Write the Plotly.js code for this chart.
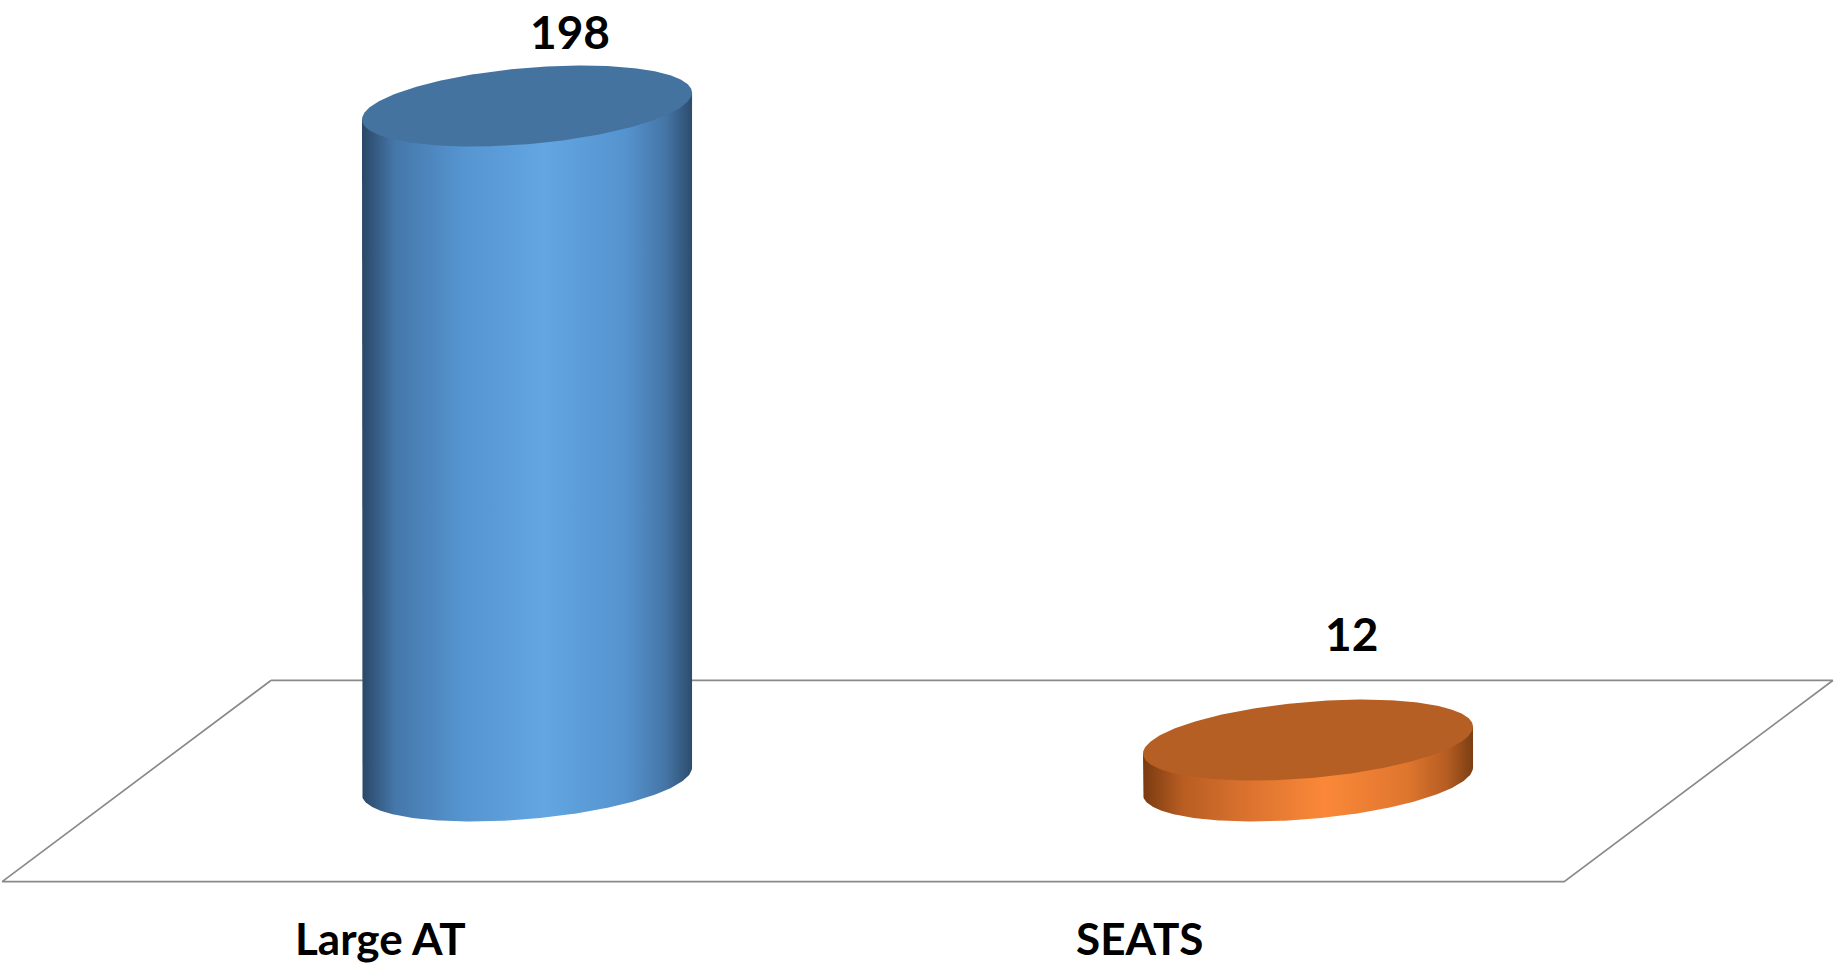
<!DOCTYPE html>
<html>
<head>
<meta charset="utf-8">
<script src="https://cdn.plot.ly/plotly-3.0.1.min.js"></script>
<style>html,body{margin:0;padding:0;background:#fff;}#chart{width:1834px;height:968px;}</style>
</head>
<body>
<div id="chart"></div>
<script>
// ---- data ----
const categories = ['Large AT', 'SEATS'];
const values = [198, 12];

// ---- style ----
const topColors = ['#44739f', '#b65f24'];
const bodyScales = [
  [[0,'#2a4766'],[0.1,'#4577aa'],[0.3,'#5594cf'],[0.55,'#62a6e2'],[0.8,'#5593ce'],[0.92,'#4575a6'],[1,'#2d4c6d']],
  [[0,'#7a3a10'],[0.12,'#b85d22'],[0.3,'#d8712e'],[0.55,'#fb8838'],[0.8,'#df762e'],[0.92,'#b65d22'],[1,'#7c3e13']]
];
const RX = 0.2113;   // cylinder radius in category units
const RY = 11.2;     // ellipse minor radius in value units
const SH = 3.96;     // perspective shear in value units
const FD = 0.172;    // floor depth offset (category units)
const FH = 29.5;     // floor half depth (value units)
const valueShift = [75, 107];

const traces = [];

// floor
const n = categories.length;
traces.push({
  x: [-0.5 + FD, n - 0.5 + FD, n - 0.5 - FD, -0.5 - FD, -0.5 + FD],
  y: [FH, FH, -FH, -FH, FH],
  mode: 'lines', line: {color: '#8a8a8a', width: 1.7}, hoverinfo: 'skip'
});

const N = 160;
categories.forEach((c, i) => {
  const v = values[i];
  // body outline
  const bx = [i - RX, i - RX], by = [v - SH, -SH];
  for (let k = 0; k <= N; k++) {
    const t = Math.PI + Math.PI * k / N;
    bx.push(i + RX * Math.cos(t));
    by.push(RY * Math.sin(t) + SH * Math.cos(t));
  }
  bx.push(i + RX, i - RX); by.push(v + SH, v - SH);
  traces.push({
    x: bx, y: by, mode: 'lines', line: {width: 0}, fill: 'toself',
    fillgradient: {type: 'horizontal', colorscale: bodyScales[i], start: i - RX, stop: i + RX},
    hoverinfo: 'skip'
  });
  // top ellipse
  const tx = [], ty = [];
  for (let k = 0; k <= 2 * N; k++) {
    const t = 2 * Math.PI * k / (2 * N);
    tx.push(i + RX * Math.cos(t));
    ty.push(v + RY * Math.sin(t) + SH * Math.cos(t));
  }
  traces.push({
    x: tx, y: ty, mode: 'lines', line: {width: 0}, fill: 'toself',
    fillcolor: topColors[i], hoverinfo: 'skip'
  });
});

const annotations = [];
categories.forEach((c, i) => {
  annotations.push({
    x: i, y: values[i], xref: 'x', yref: 'y', text: String(values[i]),
    showarrow: false, xshift: 43, yshift: valueShift[i],
    font: {family: 'Lato, "DejaVu Sans", sans-serif', size: 46, color: '#000', weight: 'bold'}
  });
  annotations.push({
    x: i - 0.3, y: -FH, xref: 'x', yref: 'y', text: c,
    showarrow: false, xanchor: 'left', yshift: -56,
    font: {family: 'Lato, "DejaVu Sans", sans-serif', size: 44, color: '#000', weight: 'bold'}
  });
});

const layout = {
  width: 1834, height: 968,
  margin: {l: 0, r: 0, t: 0, b: 0},
  paper_bgcolor: '#fff', plot_bgcolor: '#fff',
  showlegend: false,
  xaxis: {range: [-0.6748, 1.6735], visible: false, fixedrange: true},
  yaxis: {range: [-54.85, 229.1], visible: false, fixedrange: true},
  annotations: annotations
};

Plotly.newPlot('chart', traces, layout, {staticPlot: true, displayModeBar: false});
</script>
</body>
</html>
